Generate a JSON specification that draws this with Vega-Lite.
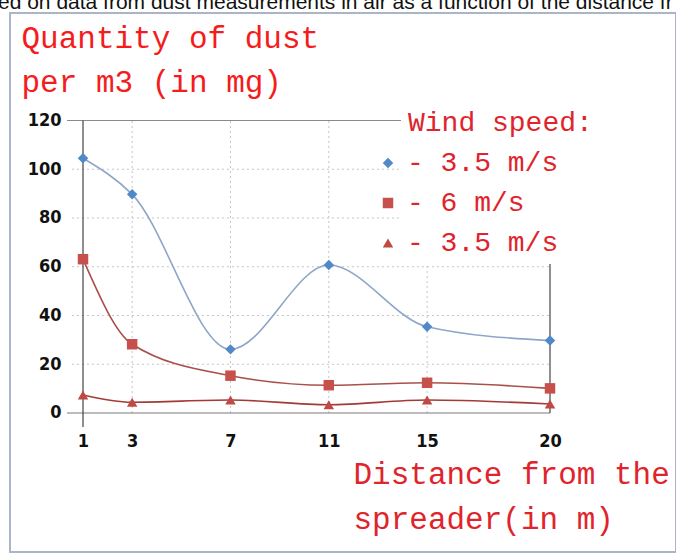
{
  "$schema": "https://vega.github.io/schema/vega-lite/v6.json",
  "autosize": {"type": "none"},
  "width": 666,
  "height": 539,
  "padding": {"left": 10, "top": 13, "right": 0, "bottom": 1},
  "background": "white",
  "config": {
    "view": {"stroke": "#aab6c8", "strokeWidth": 2},
    "axis": {"grid": false, "domain": false, "ticks": false, "tickSize": 0},
    "legend": {
      "padding": 7, "fillColor": "white",
      "titleFont": "Liberation Mono", "titleFontSize": 28, "titleFontWeight": "normal", "titleColor": "#e0242c", "titlePadding": 12, "titleLimit": 500,
      "labelFont": "Liberation Mono", "labelFontSize": 28, "labelColor": "#e0242c", "labelLimit": 400,
      "rowPadding": 12, "symbolOffset": -34, "labelOffset": 5, "symbolSize": 110
    }
  },
  "title": {
    "text": "ed on data from dust measurements in air as a function of the distance fr",
    "anchor": "start",
    "frame": "group",
    "baseline": "alphabetic",
    "offset": 0,
    "dy": 17,
    "dx": -12,
    "font": "Liberation Sans",
    "fontSize": 21,
    "fontWeight": "normal",
    "color": "#111111"
  },
  "datasets": {
    "dust": [
      {"distance": 1, "dust": 104.5, "series": "3.5 m/s #1"},
      {"distance": 3, "dust": 89.7, "series": "3.5 m/s #1"},
      {"distance": 7, "dust": 26.1, "series": "3.5 m/s #1"},
      {"distance": 11, "dust": 60.7, "series": "3.5 m/s #1"},
      {"distance": 15, "dust": 35.4, "series": "3.5 m/s #1"},
      {"distance": 20, "dust": 29.7, "series": "3.5 m/s #1"},
      {"distance": 1, "dust": 63.1, "series": "6 m/s"},
      {"distance": 3, "dust": 28.2, "series": "6 m/s"},
      {"distance": 7, "dust": 15.3, "series": "6 m/s"},
      {"distance": 11, "dust": 11.4, "series": "6 m/s"},
      {"distance": 15, "dust": 12.4, "series": "6 m/s"},
      {"distance": 20, "dust": 10.1, "series": "6 m/s"},
      {"distance": 1, "dust": 7.4, "series": "3.5 m/s #2"},
      {"distance": 3, "dust": 4.4, "series": "3.5 m/s #2"},
      {"distance": 7, "dust": 5.3, "series": "3.5 m/s #2"},
      {"distance": 11, "dust": 3.4, "series": "3.5 m/s #2"},
      {"distance": 15, "dust": 5.3, "series": "3.5 m/s #2"},
      {"distance": 20, "dust": 3.7, "series": "3.5 m/s #2"}
    ],
    "hgrid": [{"level": 20}, {"level": 40}, {"level": 60}, {"level": 80}, {"level": 100}],
    "vgrid": [{"distance": 3}, {"distance": 7}, {"distance": 11}, {"distance": 15}],
    "one": [{"frame": "line"}]
  },
  "layer": [
    {
      "data": {"name": "hgrid"},
      "mark": {"type": "rule", "color": "#c4c4c4", "strokeDash": [2, 3], "strokeWidth": 1},
      "encoding": {
        "y": {"field": "level", "type": "quantitative", "scale": {"domain": [-57.03, 164.1], "nice": false, "zero": false},
              "axis": {"values": [0, 20, 40, 60, 80, 100, 120], "offset": -51, "labelPadding": 0, "labelAlign": "right", "labelBaseline": "middle",
                       "labelFont": "Liberation Sans Narrow, DejaVu Sans Condensed, Liberation Sans", "labelFontWeight": "bold", "labelFontSize": 18, "labelColor": "#111111",
                       "title": ["Quantity of dust", "per m3 (in mg)"], "titleAngle": 0, "titleAlign": "left", "titleBaseline": "alphabetic",
                       "titleX": -40, "titleY": 34, "titleLineHeight": 44, "titleFont": "Liberation Mono", "titleFontSize": 31, "titleFontWeight": "normal", "titleColor": "#f41c1c"}},
        "x": {"datum": 0.55, "type": "quantitative", "scale": {"domain": [-1.97, 25.126], "nice": false, "zero": false},
              "axis": {"values": [1, 3, 7, 11, 15, 20], "offset": -111, "labelPadding": 0, "labelBaseline": "middle",
                       "labelFont": "Liberation Sans Narrow, DejaVu Sans Condensed, Liberation Sans", "labelFontWeight": "bold", "labelFontSize": 18, "labelColor": "#111111",
                       "title": ["Distance from the", "spreader(in m)"], "titleAnchor": null, "titleAlign": "left", "titleBaseline": "alphabetic",
                       "titleX": 343, "titleY": 42, "titleLineHeight": 45, "titleFont": "Liberation Mono", "titleFontSize": 31, "titleFontWeight": "normal", "titleColor": "#e0242c"}},
        "x2": {"datum": 20}
      }
    },
    {
      "data": {"name": "vgrid"},
      "mark": {"type": "rule", "color": "#c4c4c4", "strokeDash": [2, 3], "strokeWidth": 1},
      "encoding": {
        "x": {"field": "distance", "type": "quantitative"},
        "y": {"datum": 0},
        "y2": {"datum": 120}
      }
    },
    {
      "data": {"name": "one"},
      "mark": {"type": "rule", "color": "#8a8a8a", "strokeWidth": 1.2},
      "encoding": {"x": {"datum": 0.35}, "x2": {"datum": 20}, "y": {"datum": 120}}
    },
    {
      "data": {"name": "one"},
      "mark": {"type": "rule", "color": "#7a7a7a", "strokeWidth": 1.2},
      "encoding": {"x": {"datum": 0.35}, "x2": {"datum": 20}, "y": {"datum": 0}}
    },
    {
      "data": {"name": "one"},
      "mark": {"type": "rule", "color": "#444444", "strokeWidth": 1.2},
      "encoding": {"x": {"datum": 1}, "y": {"datum": -5.7}, "y2": {"datum": 120}}
    },
    {
      "data": {"name": "one"},
      "mark": {"type": "rule", "color": "#444444", "strokeWidth": 1.2},
      "encoding": {"x": {"datum": 20}, "y": {"datum": 0}, "y2": {"datum": 120}}
    },
    {
      "data": {"name": "dust"},
      "mark": {"type": "line", "interpolate": "monotone", "strokeWidth": 1.6},
      "encoding": {
        "x": {"field": "distance", "type": "quantitative"},
        "y": {"field": "dust", "type": "quantitative"},
        "stroke": {"field": "series", "type": "nominal", "legend": null,
                   "scale": {"domain": ["6 m/s", "3.5 m/s #1", "3.5 m/s #2"], "range": ["#a9504a", "#8ea6c8", "#a43a36"]}}
      }
    },
    {
      "data": {"name": "dust"},
      "mark": {"type": "point", "filled": true, "opacity": 1, "size": 110},
      "encoding": {
        "x": {"field": "distance", "type": "quantitative"},
        "y": {"field": "dust", "type": "quantitative"},
        "fill": {"field": "series", "type": "nominal", "title": "Wind speed:",
                 "scale": {"domain": ["3.5 m/s #1", "6 m/s", "3.5 m/s #2"], "range": ["#5088c8", "#c8504c", "#bf4a44"]},
                 "legend": {"orient": "none", "legendX": 391, "legendY": 89, "labelExpr": "'- ' + split(datum.label, ' #')[0]"}},
        "shape": {"field": "series", "type": "nominal", "title": "Wind speed:",
                  "scale": {"domain": ["3.5 m/s #1", "6 m/s", "3.5 m/s #2"], "range": ["diamond", "square", "triangle-up"]},
                  "legend": {"orient": "none", "legendX": 391, "legendY": 89, "labelExpr": "'- ' + split(datum.label, ' #')[0]"}}
      }
    }
  ]
}
